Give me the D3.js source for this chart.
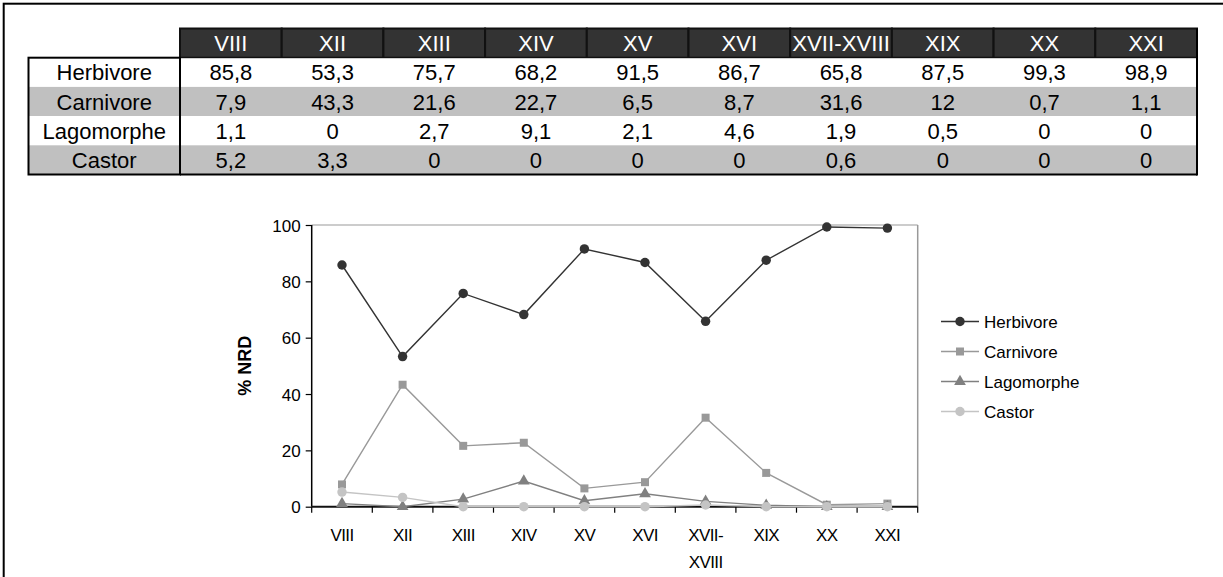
<!DOCTYPE html>
<html><head><meta charset="utf-8">
<script src="https://cdn.jsdelivr.net/npm/d3@7"></script>
<style>
html,body{margin:0;padding:0;background:#fff;}
svg{display:block;font-family:"Liberation Sans",Arial,Helvetica,sans-serif;}
</style></head>
<body>
<svg id="c" width="1223" height="577"></svg>
<script>
// ---- data ----
const categories = ["VIII","XII","XIII","XIV","XV","XVI","XVII-XVIII","XIX","XX","XXI"];
const seriesNames = ["Herbivore","Carnivore","Lagomorphe","Castor"];
const herbivore  = [85.8,53.3,75.7,68.2,91.5,86.7,65.8,87.5,99.3,98.9];
const carnivore  = [7.9,43.3,21.6,22.7,6.5,8.7,31.6,12,0.7,1.1];
const lagomorphe = [1.1,0,2.7,9.1,2.1,4.6,1.9,0.5,0,0];
const castor     = [5.2,3.3,0,0,0,0,0.6,0,0,0];
const yTicks = [0,20,40,60,80,100];
const yLabel = "% NRD";

const seriesValues = [herbivore, carnivore, lagomorphe, castor];
const styles = [
  {color:"#333333", marker:"circle", size:70},
  {color:"#999999", marker:"square", size:64},
  {color:"#808080", marker:"triangle", size:60},
  {color:"#c4c4c4", marker:"circle", size:70}
];
const symbolOf = {circle:d3.symbolCircle, square:d3.symbolSquare, triangle:d3.symbolTriangle};

const svg = d3.select("#c");
const FONT = '"Liberation Sans",Arial,sans-serif';

// outer frame
svg.append("rect").attr("x",3.7).attr("y",3.7).attr("width",1240).attr("height",600)
  .attr("fill","none").attr("stroke","#000").attr("stroke-width",2);

// ---- table ----
const tLeft = 28.5, tLabelRight = 180, tRight = 1197;
const headTop = 28.5, rowH = 29.2;
const colX = d3.scaleBand().domain(categories).range([tLabelRight, tRight]);
const rowY = d3.scaleBand().domain(seriesNames).range([headTop+rowH, headTop+rowH*5]);
const fmt = v => String(v).replace(".", ",");

const tg = svg.append("g");
// header
tg.selectAll("rect.h").data(categories).join("rect")
  .attr("x", d=>colX(d)).attr("y", headTop).attr("width", colX.bandwidth()).attr("height", rowH)
  .attr("fill","#333333").attr("stroke","#111").attr("stroke-width",2);
tg.selectAll("text.h").data(categories).join("text")
  .attr("x", d=>colX(d)+colX.bandwidth()/2).attr("y", headTop+rowH/2+8)
  .attr("text-anchor","middle").attr("fill","#fff").attr("font-size",22)
  .attr("textLength", d=> d.length>6 ? colX.bandwidth()-4 : null)
  .attr("lengthAdjust","spacingAndGlyphs")
  .text(d=>d);
// rows background
tg.selectAll("rect.r").data(seriesNames).join("rect")
  .attr("x", tLeft).attr("y", d=>rowY(d)).attr("width", tRight-tLeft).attr("height", rowY.bandwidth())
  .attr("fill",(d,i)=> i%2 ? "#c0c0c0" : "#fff");
// row labels
tg.selectAll("text.rl").data(seriesNames).join("text")
  .attr("x", (tLeft+tLabelRight)/2).attr("y", d=>rowY(d)+rowY.bandwidth()/2+8)
  .attr("text-anchor","middle").attr("fill","#000").attr("font-size",22).text(d=>d);
// values
seriesNames.forEach((s,si)=>{
  tg.selectAll("text.v"+si).data(seriesValues[si]).join("text")
    .attr("x",(d,i)=>colX(categories[i])+colX.bandwidth()/2)
    .attr("y", rowY(s)+rowY.bandwidth()/2+8)
    .attr("text-anchor","middle").attr("fill","#000").attr("font-size",22)
    .text(d=>fmt(d));
});
// borders
const bTop = headTop+rowH, bBot = headTop+rowH*5;
tg.append("rect").attr("x",tLeft).attr("y",bTop).attr("width",tLabelRight-tLeft).attr("height",bBot-bTop)
  .attr("fill","none").attr("stroke","#000").attr("stroke-width",2);
tg.append("line").attr("x1",tLabelRight).attr("x2",tRight).attr("y1",bBot).attr("y2",bBot).attr("stroke","#000").attr("stroke-width",2);
tg.append("line").attr("x1",tRight).attr("x2",tRight).attr("y1",headTop).attr("y2",bBot+1).attr("stroke","#000").attr("stroke-width",2);
tg.append("line").attr("x1",tLabelRight).attr("x2",tRight).attr("y1",bTop).attr("y2",bTop).attr("stroke","#000").attr("stroke-width",1);

// ---- chart ----
const pL = 311.7, pR = 917.7, pT = 225, pB = 506.7;
const x = d3.scaleBand().domain(categories).range([pL, pR]);
const y = d3.scaleLinear().domain([0,100]).range([pB, pT]);
const cg = svg.append("g");

// plot frame top & right
cg.append("line").attr("x1",pL).attr("x2",pR).attr("y1",pT).attr("y2",pT).attr("stroke","#999").attr("stroke-width",1.2);
cg.append("line").attr("x1",pR).attr("x2",pR).attr("y1",pT).attr("y2",pB).attr("stroke","#999").attr("stroke-width",1.5);

// y axis
const yAxis = d3.axisLeft(y).tickValues(yTicks).tickSize(6).tickPadding(5);
const ya = cg.append("g").attr("transform",`translate(${pL},0)`).call(yAxis);
ya.select(".domain").attr("stroke","#000").attr("stroke-width",1.5).attr("d",`M0,${pT}V${pB}`);
ya.selectAll(".tick line").attr("stroke","#000").attr("stroke-width",1.2);
ya.selectAll(".tick text").attr("font-size",17).attr("font-family",FONT).attr("fill","#000").attr("dy","0.36em");

// x axis
const xAxis = d3.axisBottom(x).tickSize(0).tickFormat(()=> "");
const xa = cg.append("g").attr("transform",`translate(0,${pB})`).call(xAxis);
xa.select(".domain").attr("stroke","#111").attr("stroke-width",2).attr("d",`M${pL},0H${pR}`);
// boundary ticks
const bounds = categories.map(c=>x(c)).concat([pR]);
xa.selectAll("line.bt").data(bounds).join("line").attr("class","bt")
  .attr("x1",d=>d).attr("x2",d=>d).attr("y1",0).attr("y2",6).attr("stroke","#000").attr("stroke-width",1.2);
// labels
xa.selectAll("text.xl").data(categories).join("text").attr("class","xl")
  .attr("x",d=>x(d)+x.bandwidth()/2).attr("y",34)
  .attr("text-anchor","middle").attr("font-size",17).attr("font-family",FONT).attr("fill","#000")
  .attr("letter-spacing","-0.6")
  .each(function(d){
    const parts = d.includes("-") ? [d.slice(0,d.indexOf("-")+1), d.slice(d.indexOf("-")+1)] : [d];
    const t = d3.select(this);
    parts.forEach((p,i)=>t.append("tspan").attr("x",x(d)+x.bandwidth()/2).attr("dy", i? 27:0).text(p));
  });

// y label
cg.append("text").attr("transform",`translate(251,${(pT+pB)/2}) rotate(-90)`)
  .attr("text-anchor","middle").attr("font-size",18).attr("font-weight","bold").attr("fill","#000").text(yLabel);

// series
const line = d3.line().x((d,i)=>x(categories[i])+x.bandwidth()/2).y(d=>y(d));
seriesValues.forEach((vals,si)=>{
  const st = styles[si];
  const g = cg.append("g");
  g.append("path").datum(vals).attr("d",line).attr("fill","none").attr("stroke",st.color).attr("stroke-width",1.4);
  g.selectAll("path.m").data(vals).join("path").attr("class","m")
    .attr("transform",(d,i)=>`translate(${x(categories[i])+x.bandwidth()/2},${y(d)})`)
    .attr("d", d3.symbol().type(symbolOf[st.marker]).size(st.size))
    .attr("fill",st.color);
});

// legend
const lg = svg.append("g");
const legY = d3.scalePoint().domain(seriesNames).range([321.5, 411.5]);
seriesNames.forEach((s,si)=>{
  const st = styles[si], yy = legY(s);
  lg.append("line").attr("x1",941).attr("x2",979).attr("y1",yy).attr("y2",yy).attr("stroke",st.color).attr("stroke-width",1.4);
  lg.append("path").attr("transform",`translate(960,${yy})`).attr("d",d3.symbol().type(symbolOf[st.marker]).size(st.size)).attr("fill",st.color);
  lg.append("text").attr("x",984).attr("y",yy+6).attr("font-size",17).attr("fill","#000").text(s);
});
</script>
</body></html>
